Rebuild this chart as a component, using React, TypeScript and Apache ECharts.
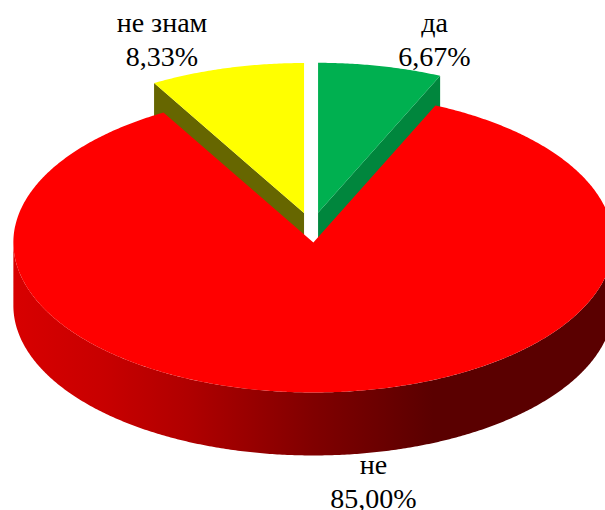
import React, { useEffect, useRef } from "react";
import * as echarts from "echarts";

const categories = ["да", "не", "не знам"];
const shares = [6.67, 85.0, 8.33];

const topColors = ["#00B050", "#FF0000", "#FFFF00"];
const wallColors = ["#00863D", "#FF0000", "#666600"];
const labelPositions = [
  [434.5, 5],
  [373.5, 447],
  [162, 5],
];
const paintOrder = [2, 5, 3];

const CX = 311.8;
const CY = 227.5;
const RX = 300;
const RY = 150;
const DEPTH = 63;
const EXPLODE = 0.1;

const rimGradient = {
  type: "linear",
  x: 0,
  y: 0,
  x2: 1,
  y2: 0,
  colorStops: [
    { offset: 0, color: "#D80000" },
    { offset: 0.15, color: "#C80000" },
    { offset: 0.29, color: "#B00000" },
    { offset: 0.5, color: "#800000" },
    { offset: 0.7, color: "#5A0000" },
    { offset: 1, color: "#5A0000" },
  ],
};

function rim(ox: number, oy: number, a0: number, a1: number, dy = 0) {
  const pts: number[][] = [];
  const steps = Math.max(2, Math.ceil(Math.abs(a1 - a0) * 120));
  for (let i = 0; i <= steps; i++) {
    const a = a0 + ((a1 - a0) * i) / steps;
    pts.push([ox + RX * Math.sin(a), oy - RY * Math.cos(a) + dy]);
  }
  return pts;
}

function renderItem(params: any, api: any) {
  const idx = params.dataIndex;
  const value = api.value(0);
  const total = shares.reduce((s, v) => s + v, 0);
  const before = shares.slice(0, idx).reduce((s, v) => s + v, 0);
  const a0 = (before / total) * Math.PI * 2;
  const a1 = ((before + value) / total) * Math.PI * 2;
  const mid = (a0 + a1) / 2;
  const ox = CX + EXPLODE * RX * Math.sin(mid);
  const oy = CY - EXPLODE * RY * Math.cos(mid);
  const z = paintOrder[idx];
  const children: any[] = [];

  // radial walls that face the viewer, for the small slices
  const ring = rim(ox, oy, a0, a1);
  if (idx === 0) {
    const e = ring[ring.length - 1];
    children.push({
      type: "polygon",
      z2: z,
      shape: { points: [[ox, oy], e, [e[0], e[1] + DEPTH], [ox, oy + DEPTH]] },
      style: { fill: wallColors[idx] },
    });
  }
  if (idx === 2) {
    const e = ring[0];
    children.push({
      type: "polygon",
      z2: z,
      shape: { points: [[ox, oy], e, [e[0], e[1] + DEPTH], [ox, oy + DEPTH]] },
      style: { fill: wallColors[idx] },
    });
  }
  // outer rim of the big slice: only the near half is visible
  if (idx === 1) {
    const upper = rim(ox, oy, Math.PI / 2, (Math.PI * 3) / 2);
    const lower = rim(ox, oy, (Math.PI * 3) / 2, Math.PI / 2, DEPTH);
    children.push({
      type: "polygon",
      z2: z,
      shape: { points: upper.concat(lower) },
      style: { fill: rimGradient },
    });
  }
  children.push({
    type: "polygon",
    z2: z + 0.5,
    shape: { points: [[ox, oy], ...ring] },
    style: { fill: topColors[idx] },
  });
  const pct = value.toFixed(2).replace(".", ",") + "%";
  children.push({
    type: "text",
    z2: 20,
    x: labelPositions[idx][0],
    y: labelPositions[idx][1],
    style: {
      text: `${categories[idx]}\n${pct}`,
      fill: "#000000",
      fontFamily: "Liberation Serif",
      fontSize: 28,
      lineHeight: 34,
      align: "center",
      verticalAlign: "top",
    },
  });
  return { type: "group", children };
}

export default function App() {
  const ref = useRef<HTMLDivElement>(null);
  useEffect(() => {
    document.body.style.margin = "0";
    document.body.style.overflow = "hidden";
    const chart = echarts.init(ref.current!, undefined, { renderer: "svg" });
    chart.setOption({
      animation: false,
      backgroundColor: "#FFFFFF",
      series: [
        {
          type: "custom",
          coordinateSystem: "none",
          silent: true,
          renderItem,
          data: shares.map((v, i) => ({ name: categories[i], value: [v] })),
        },
      ],
    });
    return () => chart.dispose();
  }, []);
  return <div ref={ref} style={{ width: 605, height: 510 }} />;
}
